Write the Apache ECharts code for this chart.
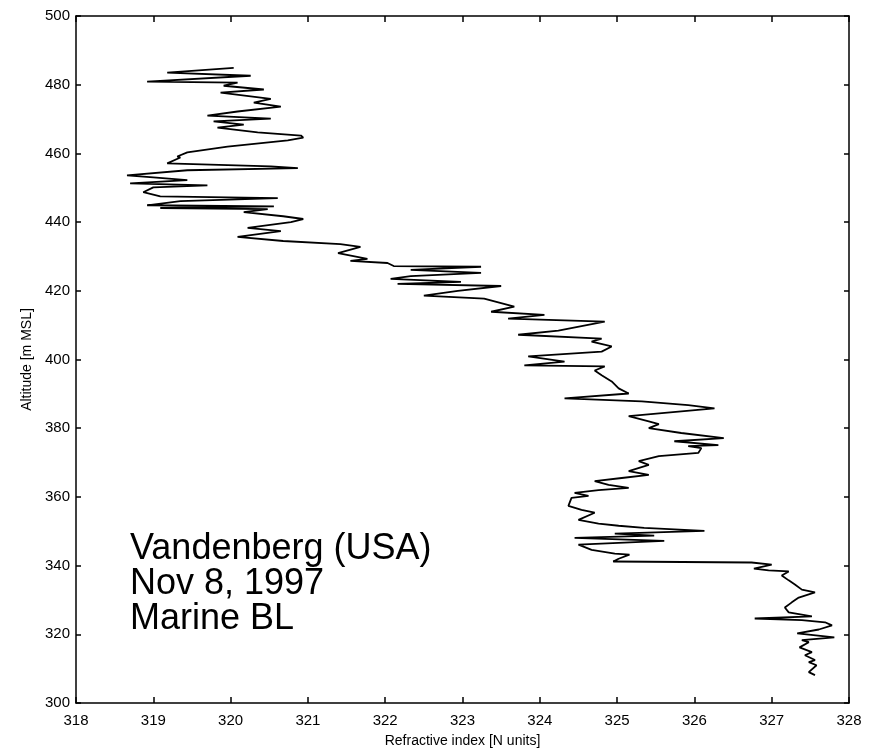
<!DOCTYPE html>
<html>
<head>
<meta charset="utf-8">
<script src="https://cdn.jsdelivr.net/npm/echarts@6/dist/echarts.min.js"></script>
<style>html,body{margin:0;padding:0;background:#fff}#c{width:870px;height:753px}</style>
</head>
<body>
<div id="c"></div>
<script>
// Refractivity profile (N units) vs altitude (m MSL), traced from bottom to top
const refractivity = [
327.56,327.48,327.58,327.48,327.56,327.43,327.52,327.36,327.48,327.39,
327.81,327.33,327.61,327.78,327.69,327.39,326.78,327.52,327.22,327.17,
327.26,327.35,327.56,327.39,327.30,327.22,327.13,327.22,326.96,326.77,
327.00,326.74,324.95,325.02,325.16,324.97,324.67,324.50,325.61,324.45,
325.48,324.97,326.13,325.35,325.02,324.76,324.50,324.71,324.54,324.37,
324.41,324.63,324.45,324.76,325.15,324.89,324.71,325.06,325.41,325.15,
325.41,325.28,325.54,326.05,326.09,325.92,326.31,325.74,326.38,325.83,
325.41,325.54,325.41,325.15,326.26,325.92,325.32,324.32,325.15,325.02,
324.93,324.80,324.71,324.84,323.80,324.32,323.85,324.80,324.93,324.67,
324.80,323.72,324.24,324.84,323.59,324.06,323.37,323.67,323.28,322.50,
322.94,323.50,322.16,322.98,322.07,322.33,323.24,322.33,323.24,322.11,
322.03,321.55,321.77,321.39,321.68,321.42,320.68,320.09,320.65,320.22,
320.78,320.94,320.68,320.17,320.48,319.09,320.56,318.92,319.35,320.61,
319.09,318.87,319.00,319.70,318.70,319.44,319.00,318.66,319.44,320.87,
320.52,319.18,319.35,319.31,319.44,319.96,320.74,320.94,320.91,320.35,
319.83,320.17,319.78,320.52,319.70,320.09,320.65,320.30,320.52,319.87,
320.43,319.91,320.09,318.92,320.26,319.18,320.04
];
const altitude = [
308.1,309.0,311.0,311.9,312.5,313.9,314.8,316.2,317.7,318.3,
319.1,320.3,321.4,322.6,323.5,324.1,324.6,325.2,326.4,327.8,
329.3,330.7,332.2,333.0,334.5,335.7,337.1,338.3,338.6,339.1,
340.3,340.9,341.2,342.0,343.2,343.5,344.6,346.1,347.2,348.1,
348.7,349.3,350.1,351.0,351.6,352.2,353.3,355.4,356.2,357.4,
359.7,360.3,361.2,362.0,362.6,363.5,364.6,365.5,366.4,367.5,
369.3,370.4,371.9,372.8,374.2,374.8,375.1,376.2,377.1,378.6,
380.0,381.2,382.0,383.5,385.8,386.7,387.8,388.7,390.1,391.6,
393.6,395.4,396.8,398.0,398.3,399.4,400.9,402.3,403.8,405.2,
406.1,407.2,408.4,411.0,411.9,413.0,413.9,415.4,417.7,418.6,
420.0,421.4,422.0,422.6,423.5,424.3,425.2,426.1,427.0,427.2,
428.1,428.7,429.3,431.0,432.8,433.6,434.5,435.7,437.4,438.3,
440.0,440.9,441.7,442.9,443.8,444.1,444.6,444.9,446.1,447.0,
447.5,448.7,450.1,450.7,451.3,452.2,453.0,453.6,455.1,455.7,
456.2,457.1,458.8,459.1,460.3,462.0,463.8,464.6,465.2,466.1,
467.5,468.4,469.3,470.1,471.0,472.2,473.6,474.8,475.9,477.7,
478.6,479.7,480.6,480.9,482.6,483.5,484.9
];
const xTicks = { min: 318, max: 328, step: 1 };
const yTicks = { min: 300, max: 500, step: 20 };
const xLabel = 'Refractive index [N units]';
const yLabel = 'Altitude [m MSL]';
const annotation = ['Vandenberg (USA)', 'Nov 8, 1997', 'Marine BL'];

const points = refractivity.map((v, i) => [v, altitude[i]]);
const font = 'Liberation Sans, Arial, Helvetica, sans-serif';
const axisLine = { show: true, onZero: false, lineStyle: { color: '#000', width: 1.5 } };
const tickIn = (len) => ({ show: true, inside: true, length: len, lineStyle: { color: '#000', width: 1.5 } });

const chart = echarts.init(document.getElementById('c'), null, { renderer: 'canvas' });
chart.setOption({
  animation: false,
  backgroundColor: '#fff',
  grid: { left: 76, right: 21, top: 16, bottom: 47, containLabel: false },
  xAxis: [
    { type: 'value', position: 'bottom', min: xTicks.min, max: xTicks.max, interval: xTicks.step,
      axisLine, axisTick: tickIn(6), splitLine: { show: false },
      axisLabel: { color: '#000', fontSize: 15, fontFamily: font, margin: 10 },
      name: xLabel, nameLocation: 'middle', nameGap: 31,
      nameTextStyle: { color: '#000', fontSize: 14, fontFamily: font } },
    { type: 'value', position: 'top', min: xTicks.min, max: xTicks.max, interval: xTicks.step,
      axisLine, axisTick: tickIn(6), splitLine: { show: false }, axisLabel: { show: false } }
  ],
  yAxis: [
    { type: 'value', position: 'left', min: yTicks.min, max: yTicks.max, interval: yTicks.step,
      axisLine, axisTick: tickIn(5), splitLine: { show: false },
      axisLabel: { color: '#000', fontSize: 15, fontFamily: font, margin: 6 },
      name: yLabel, nameLocation: 'middle', nameGap: 38, nameRotate: 90,
      nameTextStyle: { color: '#000', fontSize: 14, fontFamily: font } },
    { type: 'value', position: 'right', min: yTicks.min, max: yTicks.max, interval: yTicks.step,
      axisLine, axisTick: tickIn(5), splitLine: { show: false }, axisLabel: { show: false } }
  ],
  series: [{
    type: 'line', data: points, showSymbol: false, symbol: 'none',
    lineStyle: { color: '#000', width: 1.8 }, xAxisIndex: 0, yAxisIndex: 0
  }],
  graphic: [{
    type: 'text', left: 130, top: 531,
    style: { text: annotation.join('\n'), fill: '#000', font: '36px ' + font, lineHeight: 35 }
  }]
});
</script>
</body>
</html>
